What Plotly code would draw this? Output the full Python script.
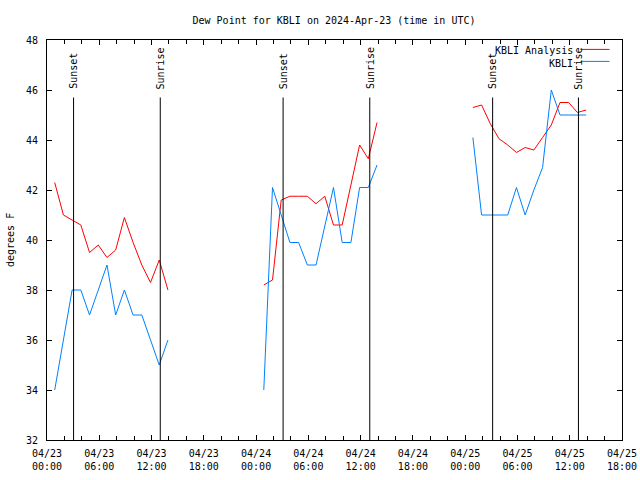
import plotly.graph_objects as go

# ---- data ----
obs_times = [
    "2024-04-23 00:53", "2024-04-23 01:53", "2024-04-23 02:53", "2024-04-23 03:53",
    "2024-04-23 04:53", "2024-04-23 05:53", "2024-04-23 06:53", "2024-04-23 07:53",
    "2024-04-23 08:53", "2024-04-23 09:53", "2024-04-23 10:53", "2024-04-23 11:53",
    "2024-04-23 12:53", "2024-04-23 13:53", None,
    "2024-04-24 00:53", "2024-04-24 01:53", "2024-04-24 02:53", "2024-04-24 03:53",
    "2024-04-24 04:53", "2024-04-24 05:53", "2024-04-24 06:53", "2024-04-24 07:53",
    "2024-04-24 08:53", "2024-04-24 09:53", "2024-04-24 10:53", "2024-04-24 11:53",
    "2024-04-24 12:53", "2024-04-24 13:53", None,
    "2024-04-25 00:53", "2024-04-25 01:53", "2024-04-25 02:53", "2024-04-25 03:53",
    "2024-04-25 04:53", "2024-04-25 05:53", "2024-04-25 06:53", "2024-04-25 07:53",
    "2024-04-25 08:53", "2024-04-25 09:53", "2024-04-25 10:53", "2024-04-25 11:53",
    "2024-04-25 12:53", "2024-04-25 13:53",
]

analysis_dewpoint = [
    42.3, 41.0, 40.8, 40.6, 39.5, 39.8, 39.3, 39.6, 40.9, 39.9, 39.0, 38.3, 39.2, 38.0, None,
    38.2, 38.4, 41.6, 41.75, 41.75, 41.75, 41.45, 41.75, 40.6, 40.6, 42.2, 43.8, 43.25, 44.7, None,
    45.3, 45.4, 44.65, 44.05, 43.8, 43.5, 43.7, 43.6, 44.1, 44.6, 45.5, 45.5, 45.1, 45.2,
]

observed_dewpoint = [
    34.0, 36.0, 38.0, 38.0, 37.0, 38.0, 39.0, 37.0, 38.0, 37.0, 37.0, 36.0, 35.0, 36.0, None,
    34.0, 42.1, 41.0, 39.9, 39.9, 39.0, 39.0, 40.5, 42.1, 39.9, 39.9, 42.1, 42.1, 43.0, None,
    44.1, 41.0, 41.0, 41.0, 41.0, 42.1, 41.0, 42.0, 42.9, 46.0, 45.0, 45.0, 45.0, 45.0,
]

sun_event_times = ["2024-04-23 03:03", "2024-04-23 13:00",
                   "2024-04-24 03:06", "2024-04-24 13:03",
                   "2024-04-25 03:09", "2024-04-25 13:00"]
sun_event_labels = ["Sunset", "Sunrise", "Sunset", "Sunrise", "Sunset", "Sunrise"]

tick_times = ["2024-04-23 00:00", "2024-04-23 06:00", "2024-04-23 12:00", "2024-04-23 18:00",
              "2024-04-24 00:00", "2024-04-24 06:00", "2024-04-24 12:00", "2024-04-24 18:00",
              "2024-04-25 00:00", "2024-04-25 06:00", "2024-04-25 12:00", "2024-04-25 18:00"]
tick_labels = ["04/23<br>00:00", "04/23<br>06:00", "04/23<br>12:00", "04/23<br>18:00",
               "04/24<br>00:00", "04/24<br>06:00", "04/24<br>12:00", "04/24<br>18:00",
               "04/25<br>00:00", "04/25<br>06:00", "04/25<br>12:00", "04/25<br>18:00"]

series_names = ["KBLI Analysis", "KBLI"]
series_colors = ["#ff0000", "#0080ff"]

FONT = "DejaVu Sans Mono"
L, R, T, B = 47, 622, 40, 440
PW, PH = R - L, B - T

fig = go.Figure()
fig.add_trace(go.Scatter(x=obs_times, y=analysis_dewpoint, mode="lines",
                         line=dict(color=series_colors[0], width=1),
                         name=series_names[0], connectgaps=False, showlegend=False))
fig.add_trace(go.Scatter(x=obs_times, y=observed_dewpoint, mode="lines",
                         line=dict(color=series_colors[1], width=1),
                         name=series_names[1], connectgaps=False, showlegend=False))

shapes = []
annotations = []
for t, lab in zip(sun_event_times, sun_event_labels):
    shapes.append(dict(type="line", xref="x", yref="y", x0=t, x1=t, y0=32, y1=45.7,
                       line=dict(color="black", width=1)))
    annotations.append(dict(x=t, y=45.95, xref="x", yref="y", text=lab, textangle=-90,
                            showarrow=False, xanchor="center", yanchor="bottom",
                            font=dict(family=FONT, size=10, color="black")))

# manual legend (text right-aligned, line sample on the right)
legend_rows = [(51, series_names[0], series_colors[0]), (63, series_names[1], series_colors[1])]
for ypx, name, col in legend_rows:
    yp = 1 - (ypx - T) / PH
    annotations.append(dict(x=(575 - L) / PW, y=yp, xref="paper", yref="paper",
                            text=name, showarrow=False, xanchor="right", yanchor="middle",
                            font=dict(family=FONT, size=10, color="black")))
    shapes.append(dict(type="line", xref="paper", yref="paper",
                       x0=(580.5 - L) / PW, x1=(609.5 - L) / PW,
                       y0=yp + 0.004, y1=yp + 0.004, line=dict(color=col, width=1)))

# y-axis title
annotations.append(dict(x=(10 - L) / PW, y=0.5, xref="paper", yref="paper",
                        text="degrees F", textangle=-90, showarrow=False,
                        xanchor="center", yanchor="middle",
                        font=dict(family=FONT, size=10, color="black")))

fig.update_layout(
    width=640, height=480,
    margin=dict(l=L, r=640 - R, t=T, b=480 - B, autoexpand=False),
    paper_bgcolor="white", plot_bgcolor="white",
    font=dict(family=FONT, size=10, color="black"),
    title=dict(text="Dew Point for KBLI on 2024-Apr-23 (time in UTC)",
               x=(334 / 640), xanchor="center", y=1 - 20 / 480, yanchor="middle",
               font=dict(family=FONT, size=10, color="black")),
    shapes=shapes, annotations=annotations,
    showlegend=False,
)
fig.update_xaxes(
    type="date", range=["2024-04-23 00:00", "2024-04-25 18:00"],
    tickvals=tick_times, ticktext=tick_labels,
    ticks="inside", ticklen=5, tickcolor="black", tickwidth=1,
    minor=dict(dtick=2 * 3600 * 1000, tick0="2024-04-23 00:00", ticks="inside",
               ticklen=4, tickcolor="black", showgrid=False),
    showline=True, linecolor="black", linewidth=1, mirror="ticks",
    showgrid=False, zeroline=False, ticklabelstandoff=4, automargin=False,
    tickfont=dict(family=FONT, size=10, color="black"),
)
fig.update_yaxes(
    range=[32, 48], dtick=2, tick0=32,
    ticks="inside", ticklen=5, tickcolor="black", tickwidth=1,
    showline=True, linecolor="black", linewidth=1, mirror="ticks",
    showgrid=False, zeroline=False, ticklabelstandoff=6, automargin=False,
    tickfont=dict(family=FONT, size=10, color="black"),
)

fig.write_html("out.html",
               config={"displayModeBar": False},
               post_script="document.body.style.margin='0px';document.body.style.overflow='hidden';")
